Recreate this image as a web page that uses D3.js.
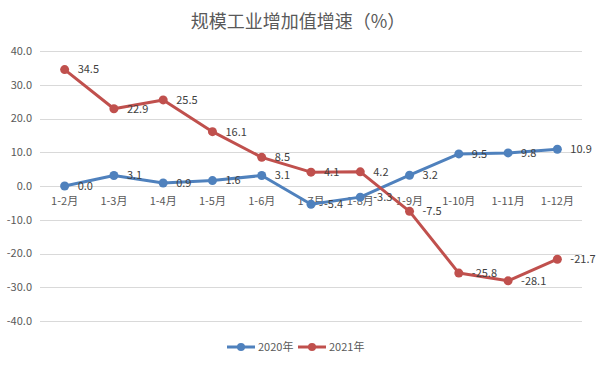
<!DOCTYPE html>
<html>
<head>
<meta charset="utf-8">
<script src="https://cdn.jsdelivr.net/npm/d3@7"></script>
<style>
  body { margin: 0; background: #fff; }
  text { font-family: "Noto Sans CJK SC", "Microsoft YaHei", sans-serif; }
</style>
</head>
<body>
<script>
var months = ["1-2月", "1-3月", "1-4月", "1-5月", "1-6月", "1-7月", "1-8月", "1-9月", "1-10月", "1-11月", "1-12月"];
var values2020 = [0.0, 3.1, 0.9, 1.6, 3.1, -5.4, -3.3, 3.2, 9.5, 9.8, 10.9];
var values2021 = [34.5, 22.9, 25.5, 16.1, 8.5, 4.1, 4.2, -7.5, -25.8, -28.1, -21.7];
var yTicks = [40, 30, 20, 10, 0, -10, -20, -30, -40];

var series = [
    {name: "2020年", values: values2020, color: "#4F81BD"},
    {name: "2021年", values: values2021, color: "#C0504D"}
];

var width = 596,
    height = 365;

var svg = d3.select("body").append("svg")
    .attr("width", width)
    .attr("height", height);

var x = d3.scaleBand()
    .domain(months)
    .range([40, 582]);

var y = d3.scaleLinear()
    .domain([-40, 40])
    .range([321, 51]);

// title
svg.append("text")
    .attr("x", 298)
    .attr("y", 28)
    .attr("text-anchor", "middle")
    .style("font-size", "18px")
    .style("fill", "#595959")
    .text("规模工业增加值增速（%）");

// gridlines
svg.append("g")
    .selectAll("line")
    .data(yTicks)
    .enter().append("line")
    .attr("x1", 40)
    .attr("x2", 582)
    .attr("y1", function(d) { return Math.round(y(d)) + 0.5; })
    .attr("y2", function(d) { return Math.round(y(d)) + 0.5; })
    .attr("stroke", "#d9d9d9")
    .attr("stroke-width", 1);

// y tick labels
svg.append("g")
    .selectAll("text")
    .data(yTicks)
    .enter().append("text")
    .attr("x", 32)
    .attr("y", function(d) { return y(d); })
    .attr("dy", "0.35em")
    .attr("text-anchor", "end")
    .style("font-size", "11px")
    .style("fill", "#595959")
    .text(function(d) { return d.toFixed(1); });

// category labels
svg.append("g")
    .selectAll("text")
    .data(months)
    .enter().append("text")
    .attr("x", function(d) { return x(d) + x.bandwidth() / 2; })
    .attr("y", y(0) + 15)
    .attr("dy", "0.35em")
    .attr("text-anchor", "middle")
    .style("font-size", "11px")
    .style("fill", "#595959")
    .text(function(d) { return d; });

var line = d3.line()
    .x(function(d, i) { return x(months[i]) + x.bandwidth() / 2; })
    .y(function(d) { return y(d); });

series.forEach(function(s) {
    var g = svg.append("g");
    g.append("path")
        .datum(s.values)
        .attr("d", line)
        .attr("fill", "none")
        .attr("stroke", s.color)
        .attr("stroke-width", 3)
        .attr("stroke-linejoin", "round");
    g.selectAll("circle")
        .data(s.values)
        .enter().append("circle")
        .attr("cx", function(d, i) { return x(months[i]) + x.bandwidth() / 2; })
        .attr("cy", function(d) { return y(d); })
        .attr("r", 4.5)
        .attr("fill", s.color);
});

// data labels
series.forEach(function(s) {
    svg.append("g")
        .selectAll("text")
        .data(s.values)
        .enter().append("text")
        .attr("x", function(d, i) { return x(months[i]) + x.bandwidth() / 2 + 13; })
        .attr("y", function(d) { return y(d); })
        .attr("dy", "0.35em")
        .style("font-size", "11px")
        .style("fill", "#404040")
        .text(function(d) { return d.toFixed(1); });
});

// legend
var legend = svg.append("g");
var legendX = [227, 298];
series.forEach(function(s, i) {
    var lg = legend.append("g")
        .attr("transform", "translate(" + legendX[i] + ",347)");
    lg.append("line")
        .attr("x1", 0).attr("x2", 28)
        .attr("y1", 0).attr("y2", 0)
        .attr("stroke", s.color)
        .attr("stroke-width", 3);
    lg.append("circle")
        .attr("cx", 14).attr("cy", 0)
        .attr("r", 4)
        .attr("fill", s.color);
    lg.append("text")
        .attr("x", 31)
        .attr("y", 0)
        .attr("dy", "0.35em")
        .style("font-size", "11px")
        .style("fill", "#595959")
        .text(s.name);
});
</script>
</body>
</html>
